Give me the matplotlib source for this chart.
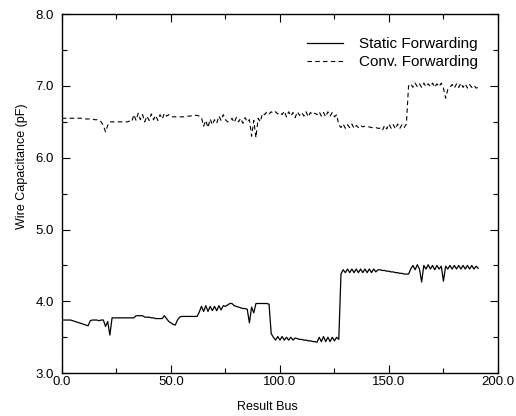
import matplotlib.pyplot as plt
from matplotlib.ticker import MultipleLocator

plt.rcParams['font.family'] = ['Liberation Sans', 'DejaVu Sans']

# bus index 0..191
static_fwd = [
    3.74, 3.74, 3.74, 3.74, 3.74, 3.73, 3.72, 3.71, 3.70, 3.69,
    3.68, 3.67, 3.66, 3.73, 3.74, 3.74, 3.74, 3.73, 3.74, 3.74,
    3.65, 3.72, 3.53, 3.77, 3.77, 3.77, 3.77, 3.77, 3.77, 3.77,
    3.77, 3.77, 3.77, 3.77, 3.80, 3.80, 3.80, 3.80, 3.78, 3.78,
    3.78, 3.77, 3.77, 3.76, 3.76, 3.76, 3.76, 3.80, 3.76, 3.72,
    3.70, 3.68, 3.67, 3.74, 3.78, 3.79, 3.79, 3.79, 3.79, 3.79,
    3.79, 3.79, 3.79, 3.85, 3.93, 3.86, 3.94, 3.86, 3.93, 3.87,
    3.93, 3.87, 3.94, 3.88, 3.94, 3.93, 3.95, 3.97, 3.97, 3.94,
    3.93, 3.92, 3.91, 3.90, 3.90, 3.89, 3.70, 3.92, 3.84, 3.97,
    3.97, 3.97, 3.97, 3.97, 3.97, 3.96, 3.55, 3.50, 3.46, 3.51,
    3.46, 3.51, 3.46, 3.50, 3.46, 3.50, 3.46, 3.49, 3.48, 3.47,
    3.47, 3.46, 3.46, 3.45, 3.45, 3.44, 3.44, 3.43, 3.50, 3.44,
    3.51, 3.44, 3.50, 3.44, 3.50, 3.45, 3.50, 3.47, 4.38, 4.44,
    4.40, 4.45, 4.40, 4.45, 4.40, 4.45, 4.40, 4.45, 4.40, 4.45,
    4.40, 4.45, 4.40, 4.45, 4.41, 4.44, 4.44, 4.43, 4.43, 4.42,
    4.42, 4.41, 4.41, 4.40, 4.40, 4.39, 4.39, 4.38, 4.38, 4.38,
    4.45, 4.50, 4.44, 4.51, 4.45, 4.27, 4.50, 4.45, 4.51, 4.45,
    4.50, 4.44, 4.50, 4.45, 4.49, 4.28, 4.49, 4.45, 4.50, 4.45,
    4.50, 4.45, 4.50, 4.45, 4.50, 4.45, 4.50, 4.45, 4.50, 4.45,
    4.49, 4.46,
]

conv_fwd = [
    6.55, 6.55, 6.55, 6.55, 6.55, 6.55, 6.55, 6.55, 6.55, 6.55,
    6.54, 6.54, 6.54, 6.54, 6.54, 6.53, 6.53, 6.52, 6.50, 6.45,
    6.36, 6.45, 6.50, 6.50, 6.50, 6.50, 6.50, 6.50, 6.50, 6.50,
    6.50, 6.51, 6.50, 6.60, 6.52, 6.62, 6.53, 6.60, 6.50, 6.58,
    6.52, 6.61, 6.53, 6.59, 6.52, 6.60, 6.54, 6.62, 6.58, 6.60,
    6.57, 6.57, 6.57, 6.57, 6.57, 6.57, 6.57, 6.58, 6.58, 6.58,
    6.59, 6.59, 6.59, 6.58, 6.56, 6.44, 6.52, 6.42, 6.54, 6.46,
    6.53, 6.48, 6.58, 6.52, 6.60, 6.53, 6.50, 6.51, 6.55, 6.49,
    6.56, 6.50, 6.55, 6.48, 6.56, 6.50, 6.53, 6.30, 6.52, 6.28,
    6.55, 6.50, 6.62, 6.60, 6.64, 6.61, 6.64, 6.62, 6.64, 6.61,
    6.63, 6.60, 6.65, 6.57, 6.64, 6.58, 6.63, 6.56, 6.64, 6.59,
    6.63, 6.58, 6.64, 6.57, 6.63, 6.60, 6.62, 6.60, 6.64, 6.58,
    6.63, 6.57, 6.64, 6.58, 6.63, 6.57, 6.60, 6.46, 6.42, 6.47,
    6.41, 6.46, 6.42, 6.47, 6.41, 6.45, 6.42, 6.45, 6.43, 6.44,
    6.43, 6.43, 6.42, 6.42, 6.42, 6.41, 6.41, 6.38, 6.45, 6.40,
    6.47, 6.41, 6.46, 6.40, 6.47, 6.41, 6.46, 6.42, 6.47, 7.00,
    7.03, 6.98, 7.04, 6.99, 7.03, 6.98, 7.04, 6.99, 7.03, 6.99,
    7.04, 6.98, 7.03, 6.99, 7.04, 6.97, 6.83, 6.95, 6.98, 7.02,
    6.97, 7.03, 6.98, 7.04, 6.98, 7.03, 6.97, 7.02, 6.98, 7.01,
    6.97, 6.98,
]

bus = list(range(len(static_fwd)))

fig = plt.figure(figsize=(5.16, 4.16), dpi=100)
ax = fig.add_axes([0.120, 0.103, 0.845, 0.863])

ax.plot(bus, static_fwd, color="black", lw=0.9, label="Static Forwarding")
ax.plot(bus, conv_fwd, color="black", lw=0.8, linestyle=(0, (4, 3)), label="Conv. Forwarding")

ax.set_xlim(0, 200)
ax.set_ylim(3.0, 8.0)
ax.xaxis.set_major_locator(MultipleLocator(50))
ax.xaxis.set_minor_locator(MultipleLocator(25))
ax.yaxis.set_major_locator(MultipleLocator(1))
ax.yaxis.set_minor_locator(MultipleLocator(0.5))
ax.xaxis.set_major_formatter(lambda v, p: f"{v:.1f}")
ax.yaxis.set_major_formatter(lambda v, p: f"{v:.1f}")

ax.tick_params(which="both", direction="in", top=True, right=True, width=0.8, labelsize=9.5)
ax.tick_params(which="major", length=6)
ax.tick_params(which="minor", length=3.5)
ax.tick_params(axis="x", pad=2)
ax.tick_params(axis="y", pad=6)
for s in ax.spines.values():
    s.set_linewidth(1.0)

ax.set_xlabel("Result Bus", fontsize=9)
ax.set_ylabel("Wire Capacitance (pF)", fontsize=9)
ax.xaxis.set_label_coords(0.472, -0.078)
ax.yaxis.set_label_coords(-0.078, 0.577)

ax.legend(loc="upper right", frameon=False, fontsize=11, handlelength=2.4,
          handletextpad=1.0, labelspacing=0.3, bbox_to_anchor=(0.985, 0.975))

fig.savefig("out.png", dpi=100)
